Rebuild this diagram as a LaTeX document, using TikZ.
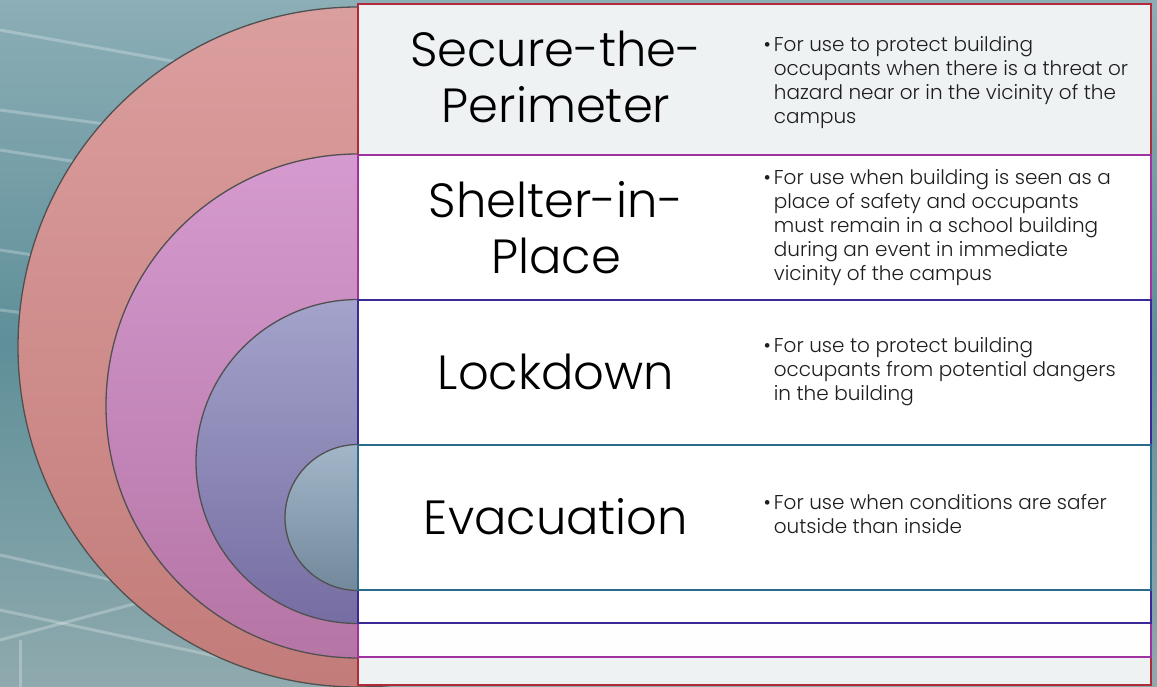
\documentclass[tikz,border=0pt]{standalone}
\usepackage{fontspec}
\setmainfont{Poppins}[UprightFont=* Light]
\usetikzlibrary{positioning}
\definecolor{bgtop}{HTML}{8CAEB6}
\definecolor{bgmid}{HTML}{5F8F99}
\definecolor{bgbot}{HTML}{8FAAAE}
\definecolor{ringA1}{HTML}{DB9E9E}
\definecolor{ringA2}{HTML}{C27C79}
\definecolor{ringB1}{HTML}{D59ACF}
\definecolor{ringB2}{HTML}{B575A5}
\definecolor{ringC1}{HTML}{A3A3CB}
\definecolor{ringC2}{HTML}{766DA2}
\definecolor{ringD1}{HTML}{A3B6C9}
\definecolor{ringD2}{HTML}{72899B}
\definecolor{edgeA}{HTML}{B02A3A}
\definecolor{edgeB}{HTML}{A032A0}
\definecolor{edgeC}{HTML}{3A2A96}
\definecolor{edgeD}{HTML}{2A6A8A}
\definecolor{rowgray}{HTML}{EFF2F3}
\tikzset{
  ring/.style={circle, inner sep=0pt, draw={rgb,255:red,80;green,80;blue,80}, line width=1.3pt},
  band/.style={rectangle, inner sep=0pt, minimum width=793pt, line width=2pt},
  title/.style={align=center, font=\fontsize{48}{56}\selectfont, text=black},
  desc/.style={anchor=west, align=left, font=\fontsize{20}{24}\selectfont, text={rgb,255:red,30;green,30;blue,30}},
  streak/.style={white, opacity=0.25, line width=3pt}
}
\newcommand{\bul}[1]{\textbullet\hspace{3pt}\begin{tabular}[t]{@{}l@{}}#1\end{tabular}}
\begin{document}
\begin{tikzpicture}[x=1pt,y=-1pt]
\useasboundingbox (0,0) rectangle (1157,687);
% background
\shade[top color=bgtop, bottom color=bgbot, middle color=bgmid] (0,0) rectangle (1157,687);
\draw[streak] (0,30) -- (360,95);
\draw[streak] (0,110) -- (300,150);
\draw[streak] (0,150) -- (260,190);
\draw[streak] (0,250) -- (200,280);
\draw[streak] (0,310) -- (160,330);
\draw[streak] (0,555) -- (380,640);
\draw[streak] (0,610) -- (360,687);
\draw[streak] (0,640) -- (130,605);
\draw[streak] (130,605) -- (240,575);
\draw[streak] (20,640) -- (20,687);
% rings
\node[ring, minimum size=680pt, top color=ringA1, bottom color=ringA2] (c1) at (358,347) {};
\node[ring, minimum size=504pt, top color=ringB1, bottom color=ringB2] (c2) at (358,406) {};
\node[ring, minimum size=324pt, top color=ringC1, bottom color=ringC2] (c3) at (358,461.5) {};
\node[ring, minimum size=146pt, top color=ringD1, bottom color=ringD2] (c4) at (358,517.5) {};
% bands
\node[band, draw=edgeA, fill=rowgray, minimum height=681pt] (b1) at (754.5,344.5) {};
\node[band, draw=edgeB, fill=white!99!gray, minimum height=502pt] (b2) at (754.5,406) {};
\node[band, draw=edgeC, fill=white, minimum height=323pt] (b3) at (754.5,461.5) {};
\node[band, draw=edgeD, fill=white, minimum height=145pt] (b4) at (754.5,517.5) {};
\fill[white] (359,156) rectangle (1150,299);
\draw[edgeB, line width=2pt] (358,155) -- (1151,155);
% titles
\node[title] (t1) at (556,77) {Secure-the-\\Perimeter};
\node[title] (t2) at (556,228) {Shelter-in-\\Place};
\node[title] (t3) at (556,372) {Lockdown};
\node[title] (t4) at (556,517) {Evacuation};
% descriptions
\node[desc] (d1) at (760,83) {\bul{For use to protect building\\occupants when there is a threat or\\hazard near or in the vicinity of the\\campus}};
\node[desc] (d2) at (760,228) {\bul{For use when building is seen as a\\place of safety and occupants\\must remain in a school building\\during an event in immediate\\vicinity of the campus}};
\node[desc] (d3) at (760,372) {\bul{For use to protect building\\occupants from potential dangers\\in the building}};
\node[desc] (d4) at (760,517) {\bul{For use when conditions are safer\\outside than inside}};
\end{tikzpicture}
\end{document}
